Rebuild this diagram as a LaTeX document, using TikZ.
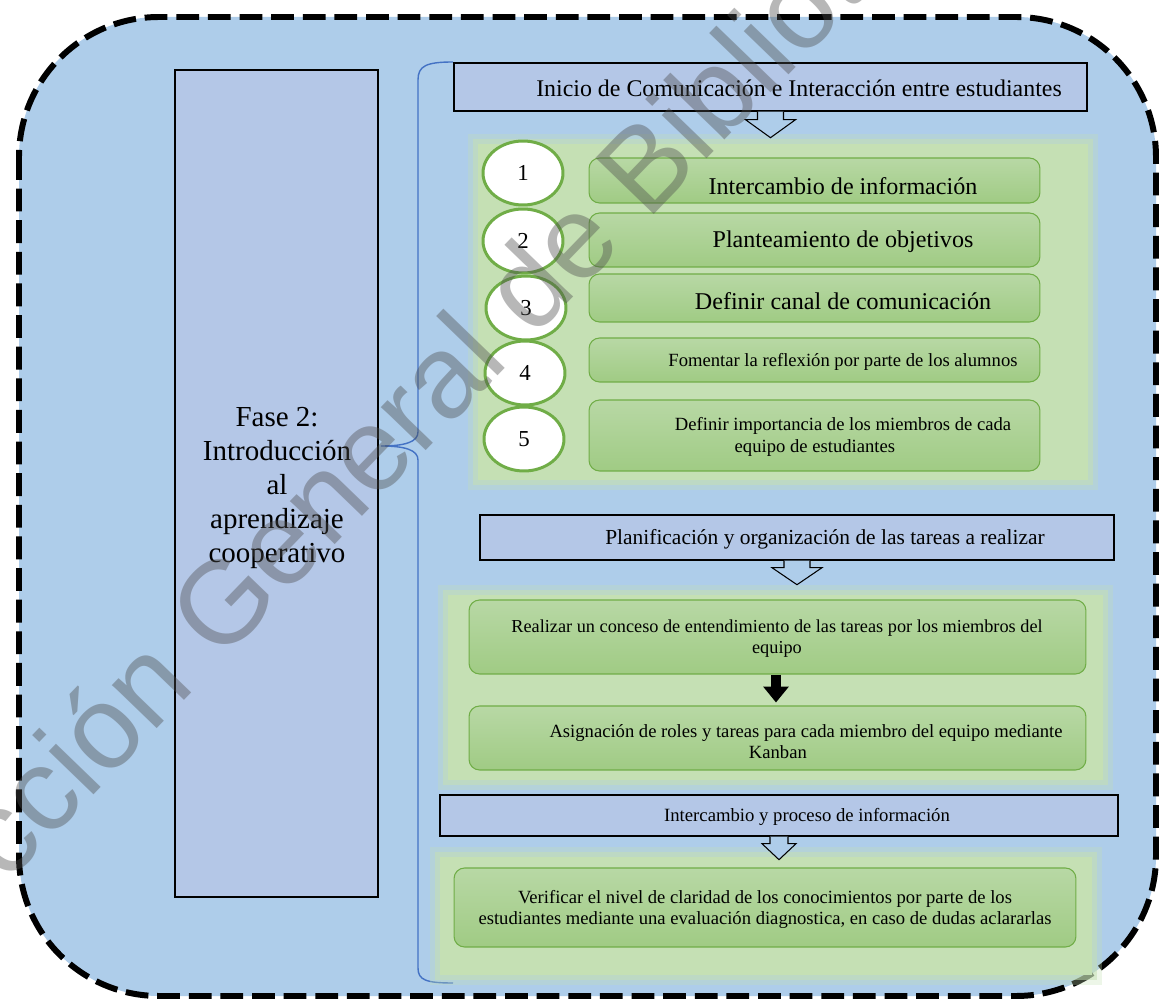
\documentclass[tikz,border=0pt]{standalone}
\usepackage{fontspec}
\setmainfont{Liberation Serif}
\newfontfamily\wmfont{Liberation Sans}
\usetikzlibrary{shapes.geometric,arrows.meta,calc}
\definecolor{outerblue}{RGB}{174,205,234}
\definecolor{hdrblue}{RGB}{180,199,231}
\definecolor{gtop}{RGB}{184,216,165}
\definecolor{gbot}{RGB}{160,203,132}
\definecolor{gborder}{RGB}{112,173,71}
\definecolor{panelgreen}{RGB}{197,224,180}
\definecolor{bracecol}{RGB}{68,114,196}
\tikzset{
  hdr/.style={draw=black, line width=0.8pt, fill=hdrblue, inner sep=0pt, rectangle},
  gbox/.style={draw=gborder, line width=0.6pt, rounded corners=6pt, top color=gtop, bottom color=gbot, inner sep=0pt, rectangle},
  numnode/.style={ellipse, draw=gborder, line width=1.7pt, fill=white, inner sep=0pt, minimum width=1.6cm, minimum height=1.28cm, font=\fontsize{13}{15}\selectfont},
  txt/.style={inner sep=0pt, align=center, text=black},
  hollowarrow/.style={draw=black, line width=0.6pt, fill=outerblue},
}
\newcommand{\fs}[2]{\fontsize{#1}{#2}\selectfont}
\begin{document}
\begin{tikzpicture}[x=0.02cm, y=-0.02cm]
\useasboundingbox (0,0) rectangle (1161,1003);
% outer dashed rounded frame
\draw[fill=outerblue, line width=3.4pt, dash pattern=on 13pt off 5pt, rounded corners=2.8cm] (19,17) rectangle (1156,996);

% left tall box
\node[hdr, minimum width=4.06cm, minimum height=16.54cm] (L) at (276.5,483.5) {};
\node[txt, font=\fs{16.5}{19.3}] (Lt) at (277,488) {Fase 2:\\Introducción\\al\\aprendizaje\\cooperativo};

% brace
\coordinate (btop) at (453,62);
\coordinate (btip) at (381,446);
\coordinate (bbot) at (453,983);
\draw[bracecol, line width=0.8pt] (btop) .. controls (426,62) and (418,66) .. (418,80) -- (418,432)
  .. controls (418,442) and (405,446) .. (btip)
  .. controls (405,446) and (418,450) .. (418,460) -- (418,968)
  .. controls (418,980) and (426,983) .. (bbot);

% ---------- section 1 ----------
\node[hdr, minimum width=12.66cm, minimum height=0.96cm] (h1) at (770.5,87) {};
\node[txt, font=\fs{13.6}{16}] (h1t) at (799,88) {Inicio de Comunicación e Interacción entre estudiantes};

\fill[panelgreen, opacity=0.3] (468,134) rectangle (1098,490);
\fill[panelgreen, opacity=0.55] (473,139) rectangle (1093,485);
\fill[panelgreen] (478,144) rectangle (1088,480);

\draw[hollowarrow] ($(h1.south)+(-13,0)$) -- ++(0,8) -- ++(-12,0) -- ($(h1.south)+(0,26)$) -- ($(h1.south)+(25,8)$) -- ++(-12,0) -- ($(h1.south)+(13,0)$);

\node[gbox, minimum width=9.02cm, minimum height=0.90cm] (g1) at (814.5,180.5) {};
\node[gbox, minimum width=9.02cm, minimum height=1.08cm] (g2) at (814.5,240) {};
\node[gbox, minimum width=9.02cm, minimum height=0.96cm] (g3) at (814.5,298) {};
\node[gbox, minimum width=9.02cm, minimum height=0.88cm] (g4) at (814.5,360) {};
\node[gbox, minimum width=9.02cm, minimum height=1.42cm] (g5) at (814.5,435.5) {};

\node[txt, font=\fs{13.7}{16}] (g1t) at (843,186) {Intercambio de información};
\node[txt, font=\fs{13.7}{16}] (g2t) at (843,242) {Planteamiento de objetivos};
\node[txt, font=\fs{13.7}{16}] (g3t) at (843,301) {Definir canal de comunicación};
\node[txt, font=\fs{10.6}{12}] (g4t) at (843,362) {Fomentar la reflexión por parte de los alumnos};
\node[txt, font=\fs{10.6}{12.5}] (g5t) at (843,437) {Definir importancia de los miembros de cada\\equipo de estudiantes\hspace*{32pt}};

\node[numnode] (n1) at (523,173) {1};
\node[numnode] (n2) at (523,241) {\raisebox{-3pt}{2}};
\node[numnode] (n3) at (526,308) {\raisebox{-3pt}{3}};
\node[numnode] (n4) at (525,373) {\raisebox{-2pt}{4}};
\node[numnode] (n5) at (524,439) {5};

% ---------- section 2 ----------
\node[hdr, minimum width=12.68cm, minimum height=0.90cm] (h2) at (797,537.5) {};
\node[txt, font=\fs{12.2}{14}] (h2t) at (825,539) {Planificación y organización de las tareas a realizar};

\fill[panelgreen, opacity=0.3] (438,585) rectangle (1113,790);
\fill[panelgreen, opacity=0.55] (443,590) rectangle (1108,785);
\fill[panelgreen] (448,595) rectangle (1103,780);

\draw[hollowarrow] ($(h2.south)+(-13,0)$) -- ++(0,7) -- ++(-12,0) -- ($(h2.south)+(0,24)$) -- ($(h2.south)+(25,7)$) -- ++(-12,0) -- ($(h2.south)+(13,0)$);

\node[gbox, minimum width=12.34cm, minimum height=1.48cm] (bA) at (777.5,637) {};
\node[txt, font=\fs{10.4}{12}] (bAt) at (777,638.5) {Realizar un conceso de entendimiento de las tareas por los miembros del\\equipo};
\node[gbox, minimum width=12.34cm, minimum height=1.28cm] (bB) at (777.5,738) {};
\node[txt, font=\fs{10.6}{12}] (bBt) at (806,741.5) {Asignación de roles y tareas para cada miembro del equipo mediante\\Kanban\hspace*{32pt}};

\draw[line width=6pt, -{Triangle[width=14pt, length=9pt]}] (bA.south -| 776,0) -- ($(bB.north -| 776,0)+(0,-3)$);

% ---------- section 3 ----------
\node[hdr, minimum width=13.56cm, minimum height=0.82cm] (h3) at (779,815.5) {};
\node[txt, font=\fs{10.65}{13}] (h3t) at (807,817) {Intercambio y proceso de información};

\fill[panelgreen, opacity=0.3] (430,847) rectangle (1102,985);
\fill[panelgreen, opacity=0.55] (435,852) rectangle (1097,980);
\fill[panelgreen] (440,857) rectangle (1092,975);

\draw[hollowarrow] ($(h3.south)+(-9,0)$) -- ++(0,7) -- ++(-8,0) -- ($(h3.south)+(0,23)$) -- ($(h3.south)+(17,7)$) -- ++(-8,0) -- ($(h3.south)+(9,0)$);

\node[gbox, minimum width=12.44cm, minimum height=1.58cm] (bC) at (765,907.5) {};
\node[txt, font=\fs{10.6}{12}] (bCt) at (765,909.5) {Verificar el nivel de claridad de los conocimientos por parte de los\\estudiantes mediante una evaluación diagnostica, en caso de dudas aclararlas};

% watermark
\begin{scope}
\clip (0,0) rectangle (1161,1003);
\node[txt, font=\wmfont\fs{67}{70}, text=black!70, opacity=0.4, rotate=46] (wm) at (419,396) {Dirección General de Bibliotecas};
\end{scope}
\end{tikzpicture}
\end{document}
